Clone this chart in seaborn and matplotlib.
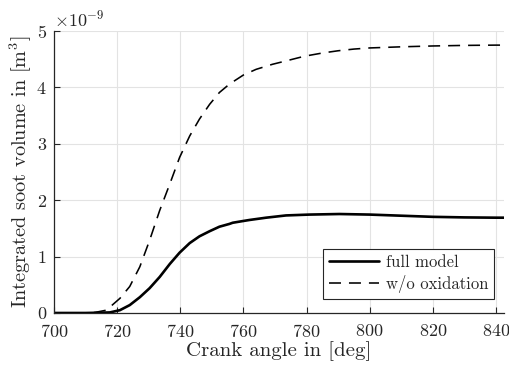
import numpy as np
import pandas as pd
import matplotlib
matplotlib.use('Agg')
import matplotlib.pyplot as plt
import seaborn as sns

# Values (soot volume in 1e-9 m^3)
crank_full = [700, 705, 710, 714.5, 717.7, 720.9, 724.0, 727.2, 730.3, 733.5, 736.7, 739.8,
              743.0, 746.1, 749.3, 752.4, 755.6, 756.6, 759.8, 762, 767.2, 773.5, 780.9,
              790.4, 800, 810, 820, 830, 840, 842.5]
soot_full = [0.0, 0.0, 0.0, 0.005, 0.01, 0.05, 0.14, 0.28, 0.44, 0.64, 0.87, 1.07,
             1.24, 1.36, 1.45, 1.53, 1.58, 1.60, 1.63, 1.65, 1.69, 1.73, 1.745,
             1.755, 1.745, 1.725, 1.705, 1.695, 1.69, 1.69]

crank_noox = [700, 705, 710, 713, 716.6, 720.9, 724.0, 727.2, 730.3, 733.5, 736.7, 739.8,
              743.0, 746.1, 749.3, 752.4, 755.6, 760, 764, 769.2, 773.5, 777.7, 780,
              785, 790, 795, 800, 810, 820, 830, 840, 842.5]
soot_noox = [0.0, 0.0, 0.0, 0.01, 0.05, 0.26, 0.47, 0.82, 1.29, 1.82, 2.29, 2.76,
             3.14, 3.44, 3.70, 3.91, 4.06, 4.22, 4.32, 4.41, 4.47, 4.53, 4.56,
             4.61, 4.65, 4.68, 4.70, 4.72, 4.735, 4.745, 4.75, 4.75]

labels = ['full model', 'w/o oxidation']

df_full = pd.DataFrame({'crank': crank_full, 'soot': np.array(soot_full) * 1e-9})
df_noox = pd.DataFrame({'crank': crank_noox, 'soot': np.array(soot_noox) * 1e-9})

sns.set_style('ticks')
plt.rcParams['font.family'] = 'serif'
plt.rcParams['font.serif'] = ['cmr10', 'DejaVu Serif']
plt.rcParams['mathtext.fontset'] = 'cm'
plt.rcParams['axes.formatter.use_mathtext'] = True
plt.rcParams['axes.unicode_minus'] = True

fig = plt.figure(figsize=(5.09, 3.65), dpi=100)
ax = fig.add_axes([0.106, 0.1425, 0.884, 0.7725])

sns.lineplot(data=df_full, x='crank', y='soot', color='black', linewidth=1.9,
             label=labels[0], ax=ax)
sns.lineplot(data=df_noox, x='crank', y='soot', color='black', linewidth=1.15,
             dashes=False, label=labels[1], ax=ax)
ax.get_lines()[1].set_dashes((7.5, 5.0))

ax.set_xlim(700, 842.5)
ax.set_ylim(0, 5e-9)
ax.set_xticks(range(700, 841, 20))
ax.set_yticks(np.arange(0, 6) * 1e-9)
ax.ticklabel_format(axis='y', style='sci', scilimits=(0, 0))
ax.yaxis.get_offset_text().set_fontsize(13)
ax.yaxis.get_offset_text().set_color('#262626')

ax.grid(True, color='#e3e3e3', linewidth=0.8)
ax.set_axisbelow(True)
for side in ['top', 'right']:
    ax.spines[side].set_visible(False)
for side in ['left', 'bottom']:
    ax.spines[side].set_color('#262626')
    ax.spines[side].set_linewidth(0.9)
ax.tick_params(direction='in', length=4, width=0.8, color='#262626', labelsize=13,
               labelcolor='#262626')
ax.tick_params(axis='x', pad=7)
ax.tick_params(axis='y', pad=5)

ax.set_xlabel('Crank angle in [deg]', fontsize=15, color='#262626', labelpad=1)
ax.set_ylabel('Integrated soot volume in [m$^3$]', fontsize=14.6, color='#262626', labelpad=2)

leg = ax.legend(loc='lower right', bbox_to_anchor=(0.997, 0.02), fontsize=12,
                frameon=True, fancybox=False, framealpha=1, edgecolor='#262626',
                handlelength=3.0, borderpad=0.35, labelspacing=0.3, handletextpad=0.4)
leg.get_frame().set_linewidth(0.8)

fig.savefig('out.png', dpi=100)
